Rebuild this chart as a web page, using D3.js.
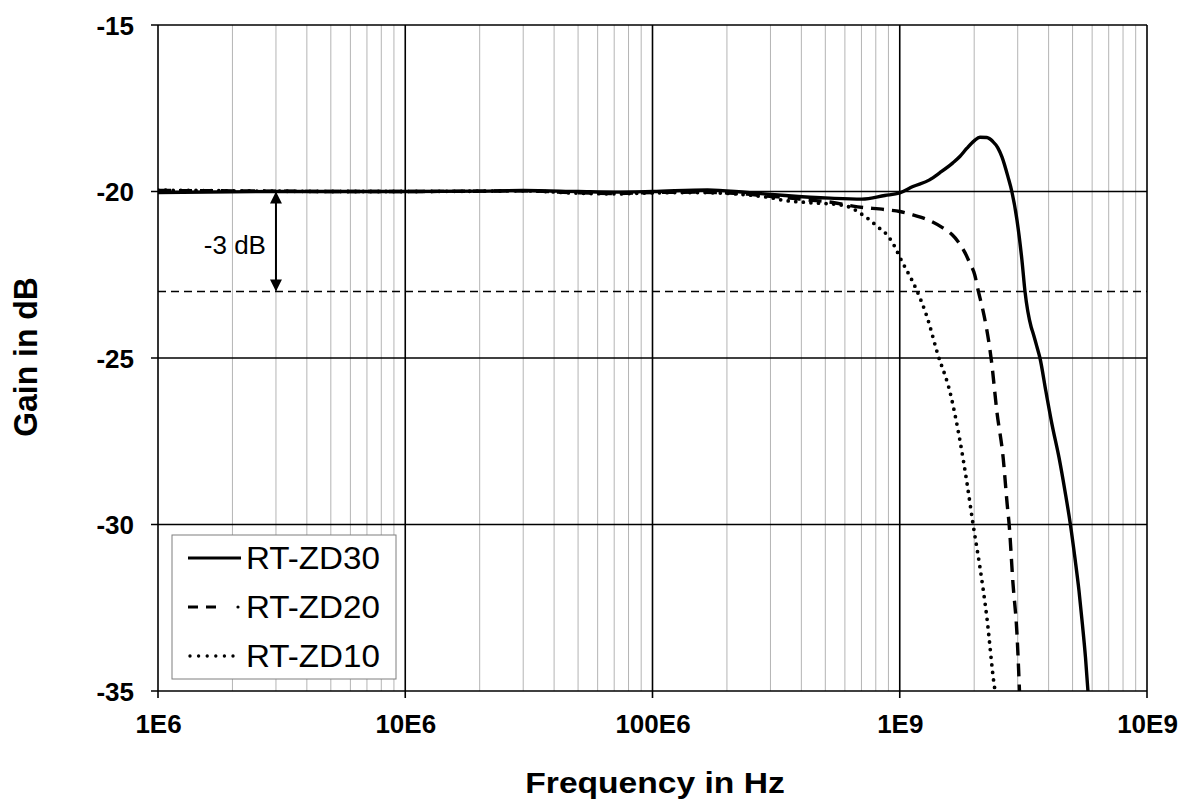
<!DOCTYPE html>
<html><head><meta charset="utf-8">
<script src="https://cdn.jsdelivr.net/npm/d3@7"></script>
<style>
html,body{margin:0;padding:0;background:#fff;}
svg{display:block;font-family:"Liberation Sans",Arial,sans-serif;}
</style></head>
<body>
<svg id="chart" width="1182" height="809"></svg>
<script>
// ---- data ----
const xTickValues = [1e6, 1e7, 1e8, 1e9, 1e10];
const xTickLabels = ["1E6", "10E6", "100E6", "1E9", "10E9"];
const yTickValues = [-15, -20, -25, -30, -35];
const yTickLabels = ["-15", "-20", "-25", "-30", "-35"];

const zd30Freq = [1e6, 2e6, 3e6, 5e6, 1e7, 2e7, 3e7, 5e7, 7e7, 1e8, 1.67e8, 2.41e8, 3.44e8, 5.22e8, 7.03e8, 8.7e8, 1e9, 1.13e9, 1.32e9, 1.45e9, 1.64e9, 1.75e9, 1.87e9, 2.0e9, 2.11e9, 2.25e9, 2.38e9, 2.49e9, 2.59e9, 2.74e9, 2.84e9, 2.98e9, 3.12e9, 3.21e9, 3.40e9, 3.46e9, 3.59e9, 3.69e9, 3.90e9, 4.13e9, 4.41e9, 4.66e9, 4.90e9, 5.11e9, 5.31e9, 5.48e9, 5.64e9, 5.77e9];
const zd30Gain = [-20.03, -20.01, -20.0, -20.0, -20.0, -19.99, -19.97, -20.0, -20.02, -20.0, -19.95, -20.03, -20.12, -20.2, -20.23, -20.12, -20.04, -19.85, -19.65, -19.44, -19.14, -18.95, -18.7, -18.48, -18.37, -18.38, -18.5, -18.68, -18.96, -19.56, -20.0, -20.86, -22.06, -23.0, -24.07, -24.25, -24.67, -25.0, -26.0, -27.0, -28.0, -29.0, -30.0, -31.0, -32.0, -33.0, -34.0, -35.0];

const zd20Freq = [1e6, 2e6, 3e6, 5e6, 1e7, 2e7, 3e7, 5e7, 7e7, 1e8, 1.5e8, 2.41e8, 3.07e8, 3.44e8, 4.22e8, 5.37e8, 6.47e8, 8.88e8, 1e9, 1.13e9, 1.3e9, 1.5e9, 1.63e9, 1.72e9, 1.84e9, 1.92e9, 2.01e9, 2.08e9, 2.16e9, 2.23e9, 2.29e9, 2.35e9, 2.47e9, 2.62e9, 2.72e9, 2.77e9, 2.87e9, 2.98e9, 3.05e9];
const zd20Gain = [-19.97, -19.98, -19.99, -20.0, -20.0, -19.99, -19.98, -20.04, -20.06, -20.03, -20.02, -20.08, -20.15, -20.18, -20.25, -20.33, -20.44, -20.55, -20.6, -20.7, -20.85, -21.1, -21.3, -21.5, -21.85, -22.15, -22.5, -23.0, -23.5, -24.0, -24.5, -25.1, -26.6, -28.0, -29.4, -30.0, -31.76, -33.3, -35.0];

const zd10Freq = [1e6, 2e6, 3e6, 5e6, 1e7, 2e7, 3e7, 5e7, 7e7, 1e8, 1.5e8, 2.41e8, 3.07e8, 3.36e8, 4.22e8, 5.73e8, 6.41e8, 6.91e8, 7.58e8, 8.17e8, 8.88e8, 9.57e8, 1e9, 1.05e9, 1.12e9, 1.17e9, 1.29e9, 1.42e9, 1.6e9, 1.75e9, 1.87e9, 1.98e9, 2.11e9, 2.25e9, 2.41e9, 2.43e9];
const zd10Gain = [-19.96, -19.98, -19.99, -20.0, -20.0, -19.99, -19.98, -20.05, -20.07, -20.04, -20.03, -20.1, -20.2, -20.26, -20.33, -20.4, -20.5, -20.65, -20.86, -21.07, -21.3, -21.67, -21.97, -22.27, -22.66, -22.96, -23.77, -24.85, -26.05, -27.46, -28.75, -30.0, -31.28, -32.78, -34.82, -35.0];

const seriesNames = ["RT-ZD30", "RT-ZD20", "RT-ZD10"];
const refLevel = -23;
const refBase = -20;
const refFreq = 3e6;
const refLabel = "-3 dB";

// ---- layout ----
const svg = d3.select("#chart");
const L = 158, R = 1147, T = 25, B = 691;
const x = d3.scaleLog().domain([1e6, 1e10]).range([L, R]);
const y = d3.scaleLinear().domain([-35, -15]).range([B, T]);

const g = svg.append("g");

// minor vertical grid
const minor = [];
for (let e = 6; e < 10; e++) for (let k = 2; k <= 9; k++) minor.push(k * Math.pow(10, e));
g.selectAll("line.minor").data(minor).enter().append("line")
  .attr("x1", d => x(d)).attr("x2", d => x(d)).attr("y1", T).attr("y2", B)
  .attr("stroke", "#b4b4b4").attr("stroke-width", 1);

// major vertical grid
g.selectAll("line.vmaj").data(xTickValues).enter().append("line")
  .attr("x1", d => x(d)).attr("x2", d => x(d)).attr("y1", T).attr("y2", B + 7)
  .attr("stroke", "#000").attr("stroke-width", 1.6);
// major horizontal grid
g.selectAll("line.hmaj").data(yTickValues).enter().append("line")
  .attr("x1", L - 7).attr("x2", R).attr("y1", d => y(d)).attr("y2", d => y(d))
  .attr("stroke", "#000").attr("stroke-width", 1.6);

// axes labels via d3 axes (tick lines hidden, grid drawn above)
const xAxis = d3.axisBottom(x).tickValues(xTickValues).tickFormat((d, i) => xTickLabels[i]).tickSize(0).tickPadding(0);
const xg = svg.append("g").attr("transform", `translate(0,${B})`).call(xAxis);
xg.select(".domain").remove();
xg.selectAll("text").attr("y", 42).attr("dy", 0)
  .attr("font-size", 26).attr("font-weight", "bold").attr("fill", "#000")
  .attr("font-family", "'Liberation Sans', Arial, sans-serif");

const yAxis = d3.axisLeft(y).tickValues(yTickValues).tickFormat((d, i) => yTickLabels[i]).tickSize(0).tickPadding(0);
const yg = svg.append("g").attr("transform", `translate(${L},0)`).call(yAxis);
yg.select(".domain").remove();
yg.selectAll("text").attr("x", -24).attr("dy", "0.36em")
  .attr("font-size", 26).attr("font-weight", "bold").attr("fill", "#000")
  .attr("font-family", "'Liberation Sans', Arial, sans-serif");

// -3 dB reference line
g.append("line").attr("x1", L).attr("x2", R).attr("y1", y(refLevel)).attr("y2", y(refLevel))
  .attr("stroke", "#000").attr("stroke-width", 1.5).attr("stroke-dasharray", "8,5");

// arrow
const defs = svg.append("defs");
defs.append("marker").attr("id", "ah").attr("viewBox", "0 0 12 12").attr("refX", 11).attr("refY", 6)
  .attr("markerWidth", 12).attr("markerHeight", 12).attr("markerUnits", "userSpaceOnUse")
  .attr("orient", "auto-start-reverse")
  .append("path").attr("d", "M0,0 L12,6 L0,12 Z").attr("fill", "#000");
g.append("line").attr("x1", x(refFreq)).attr("x2", x(refFreq))
  .attr("y1", y(refBase) + 1).attr("y2", y(refLevel) - 1)
  .attr("stroke", "#000").attr("stroke-width", 2)
  .attr("marker-start", "url(#ah)").attr("marker-end", "url(#ah)");
g.append("text").attr("x", x(refFreq) - 10).attr("y", 254).attr("text-anchor", "end")
  .attr("font-size", 26).attr("fill", "#000").text(refLabel);

// curves
const line = d3.line().x(d => x(d[0])).y(d => y(d[1])).curve(d3.curveMonotoneX);
const styles = [
  {dash: null, cap: "round", w: 3.4},
  {dash: "13,8", cap: "butt", w: 3.4},
  {dash: "0,7.6", cap: "round", w: 3.8}
];
const series = [
  d3.zip(zd30Freq, zd30Gain),
  d3.zip(zd20Freq, zd20Gain),
  d3.zip(zd10Freq, zd10Gain)
];
const clip = defs.append("clipPath").attr("id", "plotclip");
clip.append("rect").attr("x", L).attr("y", T - 5).attr("width", R - L).attr("height", B - T + 5);
series.forEach((s, i) => {
  g.append("path").datum(s).attr("d", line).attr("fill", "none")
    .attr("clip-path", "url(#plotclip)")
    .attr("stroke", "#000").attr("stroke-width", styles[i].w)
    .attr("stroke-linecap", styles[i].cap).attr("stroke-linejoin", "round")
    .attr("stroke-dasharray", styles[i].dash);
});

// legend
const lg = svg.append("g");
lg.append("rect").attr("x", 172).attr("y", 535).attr("width", 224).attr("height", 144)
  .attr("fill", "#fff").attr("stroke", "#7f7f7f").attr("stroke-width", 1);
const legY = [558, 607, 656];
const legStyles = [
  {dash: null, cap: "butt", w: 3},
  {dash: "10,8", cap: "butt", w: 3},
  {dash: "0,8.6", cap: "round", w: 3.4}
];
seriesNames.forEach((name, i) => {
  const x1 = i === 2 ? 190 : 188;
  lg.append("line").attr("x1", x1).attr("x2", i === 1 ? 218 : (i === 2 ? 234 : 241))
    .attr("y1", legY[i]).attr("y2", legY[i])
    .attr("stroke", "#000").attr("stroke-width", legStyles[i].w)
    .attr("stroke-linecap", legStyles[i].cap).attr("stroke-dasharray", legStyles[i].dash);
  if (i === 1) lg.append("circle").attr("cx", 238).attr("cy", legY[i]).attr("r", 1.6).attr("fill", "#000");
  lg.append("text").attr("x", 246).attr("y", legY[i]).attr("dy", "0.36em")
    .attr("transform", `translate(246,0) scale(1.07,1) translate(-246,0)`)
    .attr("font-size", 31).attr("fill", "#000").text(name);
});

// axis titles
svg.append("text").attr("text-anchor", "middle")
  .attr("transform", `translate(655,793) scale(1.2,1.03)`)
  .attr("font-size", 28).attr("font-weight", "bold").attr("fill", "#000")
  .text("Frequency in Hz");
svg.append("text").attr("text-anchor", "middle")
  .attr("transform", `translate(37,357) rotate(-90) scale(1.14,1.2)`)
  .attr("font-size", 28).attr("font-weight", "bold").attr("fill", "#000")
  .text("Gain in dB");
</script>
</body></html>
